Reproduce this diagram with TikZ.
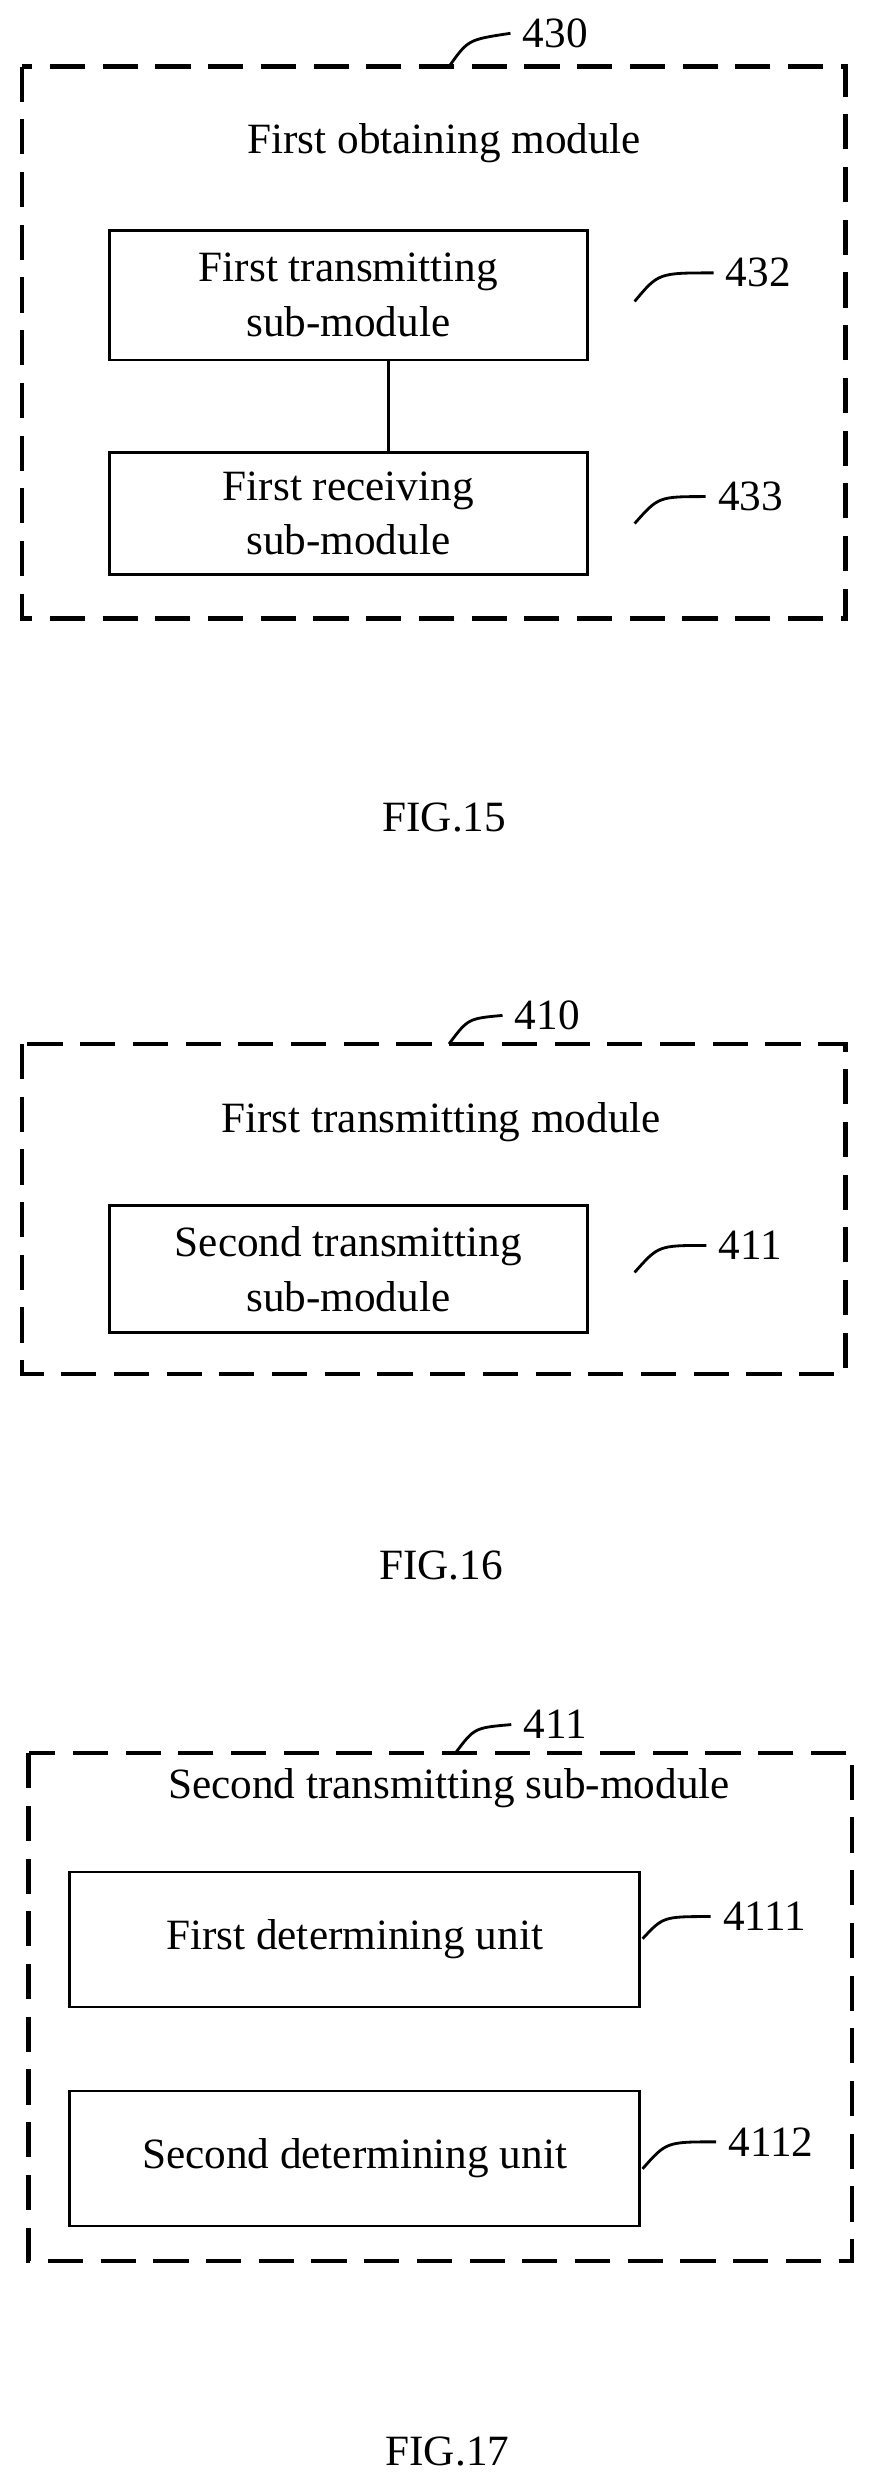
\documentclass[tikz,border=0pt]{standalone}
\usepackage{fontspec}
\setmainfont{Liberation Serif}
\usetikzlibrary{positioning}
\begin{document}
\begin{tikzpicture}[x=0.015876cm,y=-0.015876cm]
	\tikzset{every node/.style={font=\fontsize{12.3}{15.5}\selectfont}}
	\tikzset{module/.style={draw,line width=1.3pt,dash pattern=on 10pt off 5pt}}
	\tikzset{sub/.style={draw,line width=0.8pt,align=center,inner sep=0pt}}
	\tikzset{leader/.style={line width=0.8pt}}
	\useasboundingbox (0,0) rectangle (548,1560);
	% FIG.15
	\draw[module] (14,42) rectangle (533,390);
	\coordinate (m430) at (283,42);
	\node (n430) at (350,21) {430};
	\draw[leader] (m430) .. controls (295,25) .. (n430.west);
	\node (t430) at (280,90) {First obtaining module};
	\node[sub,minimum width=4.78cm,minimum height=1.30cm] (b432) at (219.5,186) {First transmitting\\sub-module};
	\node[sub,minimum width=4.78cm,minimum height=1.22cm] (b433) at (219.5,323.5) {First receiving\\sub-module};
	\draw[leader] ([xshift=0.4cm]b432.south) -- ([xshift=0.4cm]b433.north);
	\node (n432) at (478,172) {432};
	\draw[leader] (400,190) .. controls (415,172) .. (n432.west);
	\node (n433) at (473,313) {433};
	\draw[leader] (400,330) .. controls (415,313) .. (n433.west);
	\node (f15) at (280,515) {FIG.15};
	% FIG.16
	\draw[module] (14,658) rectangle (533,866);
	\node (n410) at (345,640) {410};
	\draw[leader] (283,658) .. controls (295,642) .. (n410.west);
	\node (t410) at (278,707) {First transmitting module};
	\node[sub,minimum width=4.78cm,minimum height=1.27cm] (b411) at (219.5,800) {Second transmitting\\sub-module};
	\node (n411) at (473,785) {411};
	\draw[leader] (400,802) .. controls (415,785) .. (n411.west);
	\node (f16) at (278,987) {FIG.16};
	% FIG.17
	\draw[module] (18,1105) rectangle (537,1425);
	\node (n411b) at (350,1087) {411};
	\draw[leader] (287,1105) .. controls (299,1089) .. (n411b.west);
	\node (t411) at (283,1127) {Second transmitting sub-module};
	\node[sub,minimum width=5.70cm,minimum height=1.35cm] (b4111) at (223.5,1222.5) {First determining unit};
	\node[sub,minimum width=5.70cm,minimum height=1.35cm] (b4112) at (223.5,1360.5) {Second determining unit};
	\node (n4111) at (482,1208) {4111};
	\draw[leader] (405,1222) .. controls (418,1208) .. (n4111.west);
	\node (n4112) at (486,1350) {4112};
	\draw[leader] (405,1367) .. controls (420,1350) .. (n4112.west);
	\node (f17) at (282,1545) {FIG.17};
\end{tikzpicture}
\end{document}
